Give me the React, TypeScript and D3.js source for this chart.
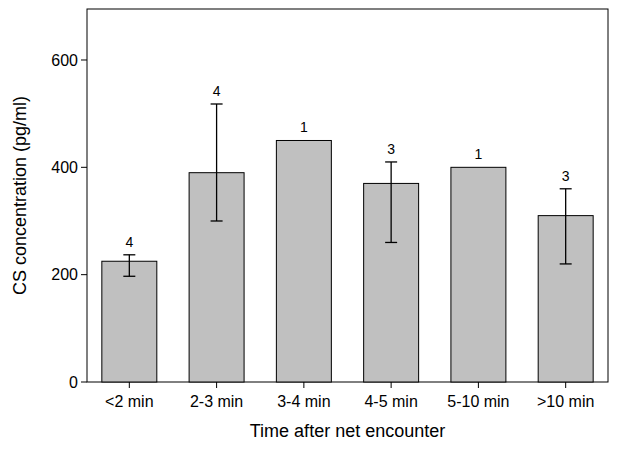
import * as d3 from 'd3';
import React from 'react';

const categories = ['<2 min', '2-3 min', '3-4 min', '4-5 min', '5-10 min', '>10 min'];
const means = [225, 390, 450, 370, 400, 310];
const errLow = [197, 300, null, 260, null, 220];
const errHigh = [237, 518, null, 410, null, 360];
const counts = ['4', '4', '1', '3', '1', '3'];
const yTicks = [0, 200, 400, 600];

export default function App() {
  const width = 617;
  const height = 449;
  const m = { left: 87, right: 9, top: 9, bottom: 67 };
  const x = d3
    .scaleBand()
    .domain(categories)
    .range([m.left, width - m.right])
    .paddingInner(0.37)
    .paddingOuter(0.17);
  const y = d3.scaleLinear().domain([0, 695]).range([height - m.bottom, m.top]);
  const font = 'Liberation Sans, Arial, sans-serif';

  return (
    <svg width={width} height={height} style={{ position: 'absolute', left: 0, top: 0 }} fontFamily={font}>
      <rect x={m.left} y={m.top} width={width - m.left - m.right} height={height - m.top - m.bottom}
        fill="none" stroke="#000" strokeWidth={1} />
      {yTicks.map((t) => (
        <g key={t}>
          <line x1={m.left - 6} x2={m.left} y1={y(t)} y2={y(t)} stroke="#000" />
          <text x={m.left - 9} y={y(t)} dy="0.35em" textAnchor="end" fontSize={16}>{t}</text>
        </g>
      ))}
      {categories.map((c, i) => {
        const cx = x(c)! + x.bandwidth() / 2;
        const top = errHigh[i] ?? means[i];
        return (
          <g key={c}>
            <rect x={x(c)} y={y(means[i])} width={x.bandwidth()} height={y(0) - y(means[i])}
              fill="#c0c0c0" stroke="#000" strokeWidth={1} />
            {errLow[i] != null && (
              <g stroke="#000" strokeWidth={1.3}>
                <line x1={cx} x2={cx} y1={y(errLow[i]!)} y2={y(errHigh[i]!)} />
                <line x1={cx - 6} x2={cx + 6} y1={y(errLow[i]!)} y2={y(errLow[i]!)} />
                <line x1={cx - 6} x2={cx + 6} y1={y(errHigh[i]!)} y2={y(errHigh[i]!)} />
              </g>
            )}
            <text x={cx} y={y(top) - 8} textAnchor="middle" fontSize={14}>{counts[i]}</text>
            <line x1={cx} x2={cx} y1={y(0)} y2={y(0) + 6} stroke="#000" />
            <text x={cx} y={y(0) + 25} textAnchor="middle" fontSize={16}>{c}</text>
          </g>
        );
      })}
      <text x={(m.left + width - m.right) / 2} y={height - 12} textAnchor="middle" fontSize={18}>
        Time after net encounter
      </text>
      <text transform={`translate(26,${(m.top + height - m.bottom) / 2}) rotate(-90)`} textAnchor="middle" fontSize={18}>
        CS concentration (pg/ml)
      </text>
    </svg>
  );
}
